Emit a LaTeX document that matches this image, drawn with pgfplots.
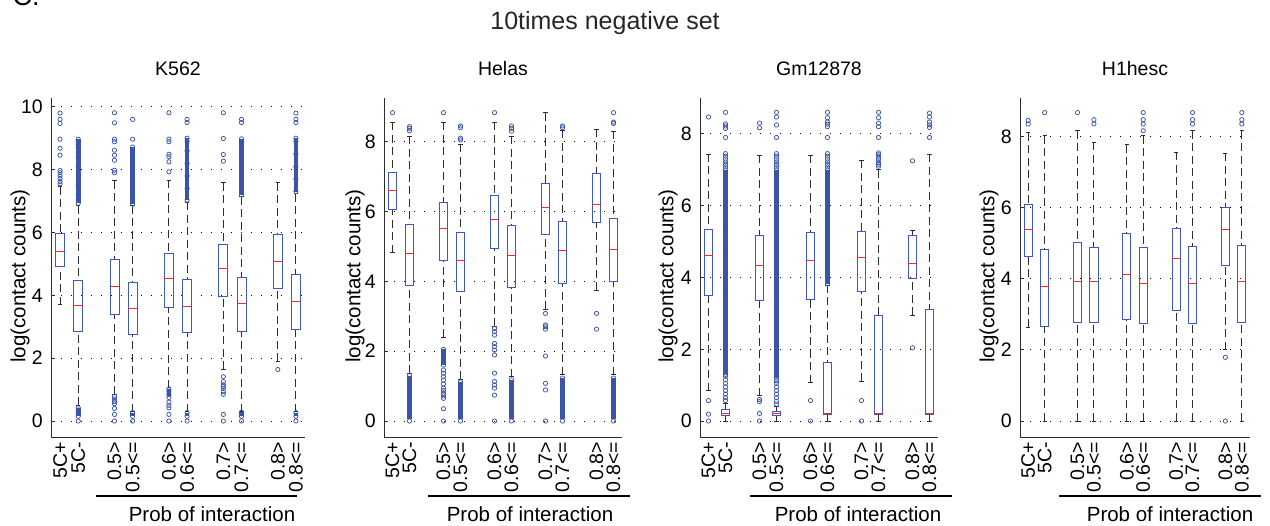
\documentclass[border=0pt]{standalone}
\usepackage{pgfplots}
\pgfplotsset{compat=1.18}
\usepgfplotslibrary{statistics}
\usepackage{fontspec}
\setmainfont{Liberation Sans}
\definecolor{outblue}{RGB}{58,84,168}
\definecolor{boxblue}{RGB}{62,88,190}
\definecolor{medred}{RGB}{250,40,40}
\definecolor{wgray}{RGB}{45,45,45}

\newcommand{\bx}[7]{\addplot[bxs, boxplot prepared={draw position=#1, lower whisker=#2, lower quartile=#3, median=#4, upper quartile=#5, upper whisker=#6}] table[row sep=\\, y index=0] {data\\ #7};}
\newcommand{\bxn}[6]{\addplot[bxs, boxplot prepared={draw position=#1, lower whisker=#2, lower quartile=#3, median=#4, upper quartile=#5, upper whisker=#6}] coordinates {};}
\newcommand{\dense}[3]{\addplot[outblue, line width=4.6bp, forget plot] coordinates {(#1,#2) (#1,#3)};}

\pgfplotsset{
 bxs/.style={outblue, mark=o, mark size=2.15bp, mark options={solid, line width=0.75bp, draw=outblue}},
 panel/.style={
   scale only axis, height=339bp, anchor=south west,
   axis lines*=left,
   axis line style={draw=wgray, line width=0.9bp},
   xmin=0.5, xmax=14.5,
   xtick={1,2,4,5,7,8,10,11,13,14},
   xticklabels={{5C+},{5C-},{0.5>},{0.5<=},{0.6>},{0.6<=},{0.7>},{0.7<=},{0.8>},{0.8<=}},
   xtick style={draw=none},
   ytick style={draw=wgray, line width=0.8bp},
   tick align=inside, major tick length=4bp,
   ymajorgrids,
   major grid style={draw=black, line width=0.8bp, dash pattern=on 0.8bp off 9.2bp},
   tick label style={font=\fontsize{19.5bp}{20bp}\selectfont},
   /pgf/number format/assume math mode=true,
   xticklabel style={rotate=90, anchor=east, inner sep=0bp},
   xticklabel shift=5bp,
   yticklabel style={inner sep=0bp},
   yticklabel shift=8bp,
   ylabel={log(contact counts)},
   label style={font=\fontsize{20.5bp}{21bp}\selectfont},
   title style={font=\fontsize{19.5bp}{20bp}\selectfont, at={(axis description cs:0.5,1)}, anchor=base, yshift=17bp},
   boxplot/draw direction=y,
   boxplot/box extend=0.5,
   boxplot/whisker extend=0.25,
   boxplot/every box/.style={draw=boxblue, line width=0.9bp, solid},
   boxplot/every median/.style={draw=medred, line width=1bp, solid},
   boxplot/every whisker/.style={draw=wgray, line width=1bp, dash pattern=on 8bp off 4.5bp},
   boxplot/draw/lower whisker/.code={%
     \draw[/pgfplots/boxplot/every whisker/.try]
       (boxplot box cs:\pgfplotsboxplotvalue{lower whisker},0.5) -- (boxplot box cs:\pgfplotsboxplotvalue{lower quartile},0.5);
     \draw[draw=wgray, line width=0.9bp, solid]
       (boxplot whisker cs:\pgfplotsboxplotvalue{lower whisker},0) -- (boxplot whisker cs:\pgfplotsboxplotvalue{lower whisker},1);
   },
   boxplot/draw/upper whisker/.code={%
     \draw[/pgfplots/boxplot/every whisker/.try]
       (boxplot box cs:\pgfplotsboxplotvalue{upper whisker},0.5) -- (boxplot box cs:\pgfplotsboxplotvalue{upper quartile},0.5);
     \draw[draw=wgray, line width=0.9bp, solid]
       (boxplot whisker cs:\pgfplotsboxplotvalue{upper whisker},0) -- (boxplot whisker cs:\pgfplotsboxplotvalue{upper whisker},1);
   },
 }
}

\begin{document}
\begin{tikzpicture}
\useasboundingbox (0,0) rectangle (1270bp,-526bp);
\node[anchor=base, font=\fontsize{25bp}{26bp}\selectfont, text=black!85] at (605bp,-29bp) {10times negative set};
\node[anchor=base west, font=\fontsize{27bp}{28bp}\selectfont] at (9bp,-5bp) {C.};

% ---------------- K562
\begin{axis}[panel, at={(51bp,-437bp)}, width=254bp, ymin=-0.509, ymax=10.28, ytick={0,2,4,6,8,10},
  title={K562}, ylabel style={at={(axis description cs:-0.122,0.475)}, anchor=center}]
\bx{1}{3.7}{4.93}{5.39}{5.97}{7.45}{7.55\\7.62\\7.72\\7.8\\7.9\\7.97\\8.46\\8.68\\8.97\\9.47\\9.6\\9.8\\}
\dense{2}{6.93}{8.97}\dense{2}{0.15}{0.42}
\bx{2}{0.5}{2.84}{3.67}{4.47}{6.85}{0\\0.15\\0.25\\0.35\\0.42\\6.93\\7.2\\7.5\\7.8\\8.1\\8.4\\8.7\\8.8\\8.9\\8.97\\}
\bx{4}{0.85}{3.39}{4.28}{5.14}{7.65}{0\\0.21\\0.4\\0.55\\0.62\\0.7\\0.78\\7.9\\7.98\\8.3\\8.46\\8.62\\8.89\\8.97\\9.49\\9.81\\}
\dense{5}{6.9}{8.72}\dense{5}{0.15}{0.27}
\bx{5}{0.3}{2.75}{3.57}{4.41}{6.85}{0\\0.15\\0.27\\6.9\\7.3\\7.7\\8.1\\8.5\\8.72\\8.97\\9.6\\}
\dense{7}{0.75}{1.02}
\bx{7}{1.06}{3.63}{4.54}{5.33}{7.67}{0\\0.21\\0.42\\0.5\\0.6\\0.75\\0.85\\0.95\\1.02\\7.93\\8.25\\8.41\\8.49\\8.89\\8.97\\9.81\\}
\dense{8}{7.03}{9.0}\dense{8}{0.15}{0.27}
\bx{8}{0.3}{2.81}{3.66}{4.5}{6.97}{0\\0.15\\0.27\\7.03\\7.4\\7.8\\8.2\\8.6\\8.9\\9.0\\9.5\\9.6\\}
\bx{10}{1.64}{3.98}{4.84}{5.62}{7.58}{0\\0.21\\0.85\\0.93\\1.04\\1.1\\1.15\\1.25\\1.41\\8.27\\8.48\\8.99\\9.81\\}
\dense{11}{7.2}{8.98}\dense{11}{0.15}{0.28}
\bx{11}{0.3}{2.86}{3.73}{4.58}{7.14}{0\\0.15\\0.28\\7.2\\7.6\\8.0\\8.4\\8.8\\8.98\\9.5\\9.6\\}
\bx{13}{1.9}{4.23}{5.08}{5.95}{7.58}{1.64\\}
\dense{14}{7.3}{9.0}\dense{14}{0.15}{0.27}
\bx{14}{0.3}{2.92}{3.79}{4.67}{7.24}{0\\0.15\\0.27\\7.3\\7.7\\8.1\\8.5\\8.9\\9.0\\9.5\\9.6\\9.8\\}
\end{axis}
\draw[line width=1.6bp] (96bp,-496bp) -- (297bp,-496bp);
\node[anchor=base, font=\fontsize{20.5bp}{21bp}\selectfont] at (212bp,-521bp) {Prob of interaction};

% ---------------- Helas
\begin{axis}[panel, at={(384bp,-437bp)}, width=238bp, ymin=-0.458, ymax=9.25, ytick={0,2,4,6,8},
  title={Helas}, ylabel style={at={(axis description cs:-0.122,0.475)}, anchor=center}]
\bx{1}{4.82}{6.06}{6.61}{7.11}{8.55}{8.83\\}
\dense{2}{0.05}{1.3}
\bx{2}{1.37}{3.89}{4.8}{5.62}{8.16}{0\\0.2\\0.4\\0.6\\0.8\\1.0\\1.2\\1.3\\8.31\\8.38\\8.43\\}
\dense{4}{1.6}{2.05}
\bx{4}{2.4}{4.59}{5.5}{6.25}{8.55}{0\\0.35\\0.65\\0.72\\0.79\\0.87\\0.94\\1.06\\1.17\\1.27\\1.37\\1.46\\1.6\\1.75\\1.9\\2.05\\8.83\\}
\dense{5}{0.05}{1.12}
\bx{5}{1.2}{3.71}{4.6}{5.4}{7.93}{0\\0.3\\0.6\\0.9\\1.12\\8.05\\8.1\\8.4\\8.45\\}
\bx{7}{2.72}{4.94}{5.76}{6.46}{8.55}{0\\0.74\\0.94\\1.03\\1.13\\1.37\\1.89\\2.03\\2.13\\2.22\\2.46\\2.56\\2.65\\8.83\\}
\dense{8}{0.05}{1.18}
\bx{8}{1.27}{3.82}{4.74}{5.59}{8.16}{0\\0.3\\0.6\\0.9\\1.18\\8.3\\8.38\\8.45\\}
\bx{10}{3.2}{5.34}{6.11}{6.8}{8.83}{0\\0.89\\1.08\\1.86\\2.63\\2.7\\2.75\\3.08\\}
\dense{11}{0.05}{1.23}
\bx{11}{1.32}{3.93}{4.87}{5.72}{8.33}{0\\0.3\\0.6\\0.9\\1.23\\8.4\\8.45\\}
\bx{13}{3.75}{5.68}{6.21}{7.09}{8.35}{2.63\\3.08\\}
\dense{14}{0.05}{1.23}
\bx{14}{1.32}{4.0}{4.92}{5.8}{8.3}{0\\0.3\\0.6\\0.9\\1.23\\8.52\\8.56\\8.83\\}
\end{axis}
\draw[line width=1.6bp] (428bp,-496bp) -- (630bp,-496bp);
\node[anchor=base, font=\fontsize{20.5bp}{21bp}\selectfont] at (530bp,-521bp) {Prob of interaction};

% ---------------- Gm12878
\begin{axis}[panel, at={(700bp,-437bp)}, width=238bp, ymin=-0.446, ymax=9.0, ytick={0,2,4,6,8},
  title={Gm12878}, ylabel style={at={(axis description cs:-0.134,0.475)}, anchor=center}]
\bx{1}{0.84}{3.5}{4.6}{5.33}{7.44}{0\\0.19\\0.57\\8.47\\}
\dense{2}{1.3}{7.0}
\bx{2}{0}{0.15}{0.21}{0.31}{0.5}{0.57\\0.65\\0.75\\0.85\\0.95\\1.05\\1.15\\1.25\\1.3\\7.0\\7.08\\7.15\\7.22\\7.3\\7.38\\7.45\\7.9\\8.15\\8.22\\8.28\\8.6\\}
\bx{4}{0.7}{3.37}{4.32}{5.16}{7.4}{0\\0.21\\0.54\\0.6\\8.17\\8.3\\}
\dense{5}{1.2}{7.0}
\bx{5}{0}{0.15}{0.21}{0.28}{0.4}{0.47\\0.55\\0.65\\0.75\\0.85\\0.95\\1.05\\1.12\\1.2\\7.0\\7.08\\7.15\\7.22\\7.3\\7.38\\7.45\\7.9\\8.25\\8.47\\8.6\\}
\bx{7}{1.07}{3.39}{4.46}{5.26}{7.4}{0\\0.57\\}
\dense{8}{3.82}{7.0}
\bx{8}{0}{0.17}{0.21}{1.63}{3.79}{3.82\\7.0\\7.08\\7.15\\7.22\\7.3\\7.38\\7.45\\7.9\\8.2\\8.27\\8.33\\8.45\\8.6\\}
\bx{10}{1.11}{3.61}{4.55}{5.27}{7.26}{0\\0.57\\}
\bx{11}{0}{0.17}{0.21}{2.93}{7.0}{7.1\\7.15\\7.2\\7.28\\7.35\\7.42\\7.47\\7.9\\8.2\\8.3\\8.45\\8.6\\}
\bx{13}{2.94}{3.98}{4.4}{5.16}{5.32}{2.04\\7.25\\}
\bx{14}{0}{0.17}{0.21}{3.1}{7.43}{7.9\\8.18\\8.25\\8.33\\8.47\\8.58\\}
\end{axis}
\draw[line width=1.6bp] (750bp,-496bp) -- (952bp,-496bp);
\node[anchor=base, font=\fontsize{20.5bp}{21bp}\selectfont] at (858bp,-521bp) {Prob of interaction};

% ---------------- H1hesc
\begin{axis}[panel, at={(1020bp,-437bp)}, width=230bp, ymin=-0.45, ymax=9.08, ytick={0,2,4,6,8},
  title={H1hesc}, ylabel style={at={(axis description cs:-0.134,0.475)}, anchor=center}]
\bx{1}{2.64}{4.63}{5.37}{6.08}{8.1}{8.35\\8.45\\}
\bx{2}{0}{2.66}{3.77}{4.82}{8.02}{8.67\\}
\bx{4}{0}{2.76}{3.93}{5.03}{8.16}{8.67\\}
\bx{5}{0}{2.76}{3.91}{4.89}{7.83}{8.35\\8.47\\}
\bxn{7}{0}{2.86}{4.13}{5.26}{7.77}
\bx{8}{0}{2.74}{3.87}{4.88}{8.02}{8.16\\8.35\\8.47\\8.67\\}
\bxn{10}{0}{3.11}{4.58}{5.4}{7.55}
\bx{11}{0}{2.74}{3.87}{4.91}{8.16}{8.35\\8.47\\8.67\\}
\bx{13}{2.0}{4.37}{5.37}{6.0}{7.53}{0\\1.79\\}
\bx{14}{0}{2.77}{3.91}{4.94}{8.16}{8.35\\8.47\\8.67\\}
\end{axis}
\draw[line width=1.6bp] (1059bp,-496bp) -- (1261bp,-496bp);
\node[anchor=base, font=\fontsize{20.5bp}{21bp}\selectfont] at (1170bp,-521bp) {Prob of interaction};
\end{tikzpicture}
\end{document}
